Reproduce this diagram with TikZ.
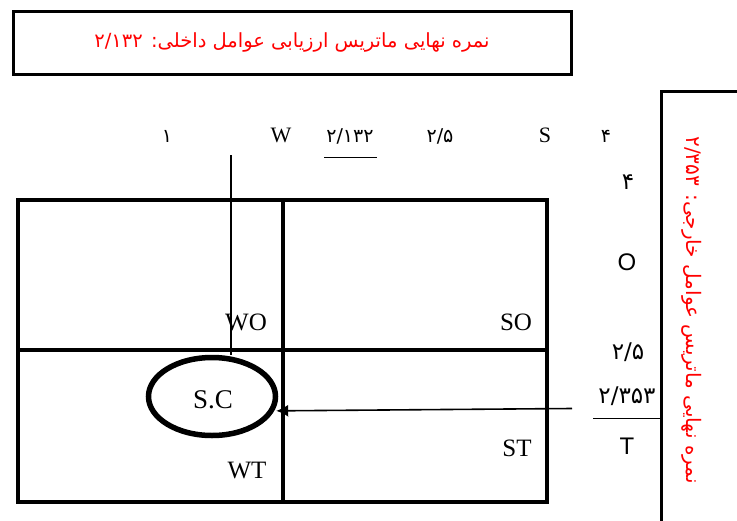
\documentclass[tikz,border=0pt]{standalone}
\usepackage{fontspec}
\setmainfont{Liberation Serif}
\newfontfamily\fa[Script=Arabic]{DejaVu Sans}
\newfontfamily\arialfont{Liberation Sans}
\TeXXeTstate=1
\usetikzlibrary{shapes.geometric,arrows.meta}

\begin{document}
\begin{tikzpicture}[x=1pt,y=-1pt,
  gridline/.style={line width=3.5pt},
  framebox/.style={line width=3pt},
  quad/.style={font=\fontsize{25}{27}\selectfont, inner sep=0, anchor=base},
  axislab/.style={font=\fontsize{22}{24}\selectfont, inner sep=0, anchor=base},
  axisnum/.style={font=\fa\fontsize{19}{21}\selectfont, inner sep=0, anchor=base},
  sidelab/.style={font=\arialfont\fontsize{24}{26}\selectfont, inner sep=0},
  sidenum/.style={font=\fa\fontsize{23}{25}\selectfont, inner sep=0},
  thin/.style={line width=1.3pt},
]
\useasboundingbox (0,0) rectangle (737,520);

% internal factors score
\node[draw, framebox, minimum width=558pt, minimum height=63pt, inner sep=0,
      text=red, font=\fa\fontsize{19.5}{21}\selectfont] (ife) at (292,42.5)
  {\beginR نمره نهایی ماتریس ارزیابی عوامل داخلی\kern0pt: ۲/۱۳۲\endR};

% external factors score
\draw[framebox] (745,91) -- (661,91) -- (661,530);
\node[rotate=-90, text=red, font=\fa\fontsize{20}{22}\selectfont, inner sep=0] (efe) at (692,310)
  {\beginR نمره نهایی ماتریس عوامل خارجی\kern0pt: ۲/۳۵۳\endR};

% horizontal axis (internal)
\node[axisnum] (x1)  at (167,142) {۱};
\node[axislab] (xw)  at (281,142) {W};
\node[axisnum] (xm)  at (350,142) {۲/۱۳۲};
\node[axisnum] (x25) at (440,142) {۲/۵};
\node[axislab] (xs)  at (545,142) {S};
\node[axisnum] (x4)  at (606,142) {۴};
\draw[line width=1pt] (324,157) -- (377,157);

% vertical axis (external)
\node[sidenum] (y4)  at (628,182) {۴};
\node[sidelab] (yo)  at (627,262) {O};
\node[sidenum] (y25) at (628,352) {۲/۵};
\node[sidenum] (ym)  at (627,396) {۲/۳۵۳};
\draw[line width=1pt] (593,418) -- (660,418);
\node[sidelab] (yt)  at (627,446) {T};

% SWOT grid
\draw[gridline] (18,200) rectangle (547,502);
\draw[gridline] (283,200) -- (283,502);
\draw[gridline] (18,350) -- (547,350);

\node[quad] (wo) at (246,330) {WO};
\node[quad] (so) at (516,330) {SO};
\node[quad] (wt) at (247,478) {WT};
\node[quad] (st) at (517,456) {ST};

% current strategic position
\node[ellipse, draw, line width=5.5pt, minimum width=127pt, minimum height=78pt,
      inner sep=0] (sc) at (212,396.5) {};
\node[font=\fontsize{27}{29}\selectfont, inner sep=0, anchor=base] (sclab) at (213,408) {S.C};

\coordinate (wtop) at (231,155);
\draw[thin] (wtop) -- (wtop |- sc.north);

\coordinate (tstart) at (572,408.5);
\draw[line width=1.6pt, -{Latex[length=12pt,width=12pt]}, shorten >=2pt] (tstart) -- (sc.-13.5);
\end{tikzpicture}
\end{document}
